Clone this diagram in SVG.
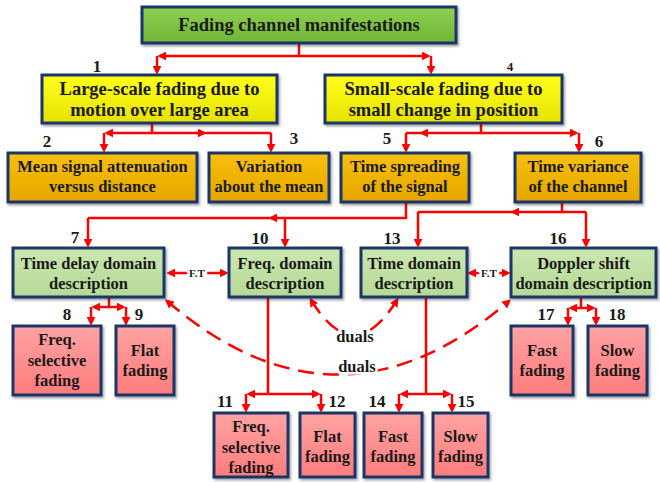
<svg xmlns="http://www.w3.org/2000/svg" width="660" height="482" viewBox="0 0 660 482">
<style>
.t{font-family:"Liberation Serif","Times New Roman",serif;font-weight:bold;fill:#1a1a1a;text-anchor:middle;font-size:16.5px}
.big{font-size:18.5px}
.n{font-family:"Liberation Serif","Times New Roman",serif;font-weight:bold;fill:#1a1a1a;text-anchor:middle;font-size:17px}
.box{stroke:#1b3668;stroke-width:3;filter:url(#sh)}
.c{fill:none;stroke:#ff0000;stroke-width:2.5}
.ca{fill:none;stroke:#ff0000;stroke-width:2.5;marker-end:url(#ah)}
.cb{fill:none;stroke:#ff0000;stroke-width:2.5;marker-end:url(#ah);marker-start:url(#ah)}
.d{fill:none;stroke:#ff0000;stroke-width:2.5;stroke-dasharray:16 9;marker-end:url(#ah);marker-start:url(#ah)}
.lbl{paint-order:stroke;stroke:#fff;stroke-width:5px}
</style>
<defs>
<filter id="sh" x="-10%" y="-10%" width="130%" height="140%">
<feDropShadow dx="1.5" dy="2" stdDeviation="1.2" flood-color="#000" flood-opacity="0.35"/>
</filter>
<marker id="ah" viewBox="0 0 10 10" refX="7" refY="5" markerWidth="9" markerHeight="9" markerUnits="userSpaceOnUse" orient="auto-start-reverse">
<path d="M0,0 L10,5 L0,10 z" fill="#ff0000"/>
</marker>
<linearGradient id="gTop" x1="0" y1="0" x2="0" y2="1"><stop offset="0" stop-color="#8fcf52"/><stop offset="1" stop-color="#6fb634"/></linearGradient>
<linearGradient id="gY" x1="0" y1="0" x2="0" y2="1"><stop offset="0" stop-color="#ffff1a"/><stop offset="1" stop-color="#e6e200"/></linearGradient>
<linearGradient id="gO" x1="0" y1="0" x2="0" y2="1"><stop offset="0" stop-color="#f8c00a"/><stop offset="1" stop-color="#e4a600"/></linearGradient>
<linearGradient id="gG" x1="0" y1="0" x2="0" y2="1"><stop offset="0" stop-color="#cbe7b0"/><stop offset="1" stop-color="#b5d996"/></linearGradient>
<linearGradient id="gP" x1="0" y1="0" x2="0" y2="1"><stop offset="0" stop-color="#ffa3a3"/><stop offset="1" stop-color="#ff7c7c"/></linearGradient>
</defs>

<g id="connectors">
<path class="c" d="M299,43 V56"/>
<path class="ca" d="M299,56 H160"/>
<path class="ca" d="M299,56 H428"/>
<path class="ca" d="M157,56 V72"/>
<path class="ca" d="M431,56 V72"/>

<path class="c" d="M152,123 V133 H271"/>
<path class="ca" d="M152,133 H107"/>
<path class="ca" d="M196,133 H204"/>
<path class="ca" d="M104,133 V150"/>
<path class="ca" d="M271,133 V150"/>

<path class="c" d="M481,123 V133 H406"/>
<path class="ca" d="M428,133 H422"/>
<path class="ca" d="M481,133 H576"/>
<path class="ca" d="M406,133 V150"/>
<path class="ca" d="M579,133 V150"/>

<path class="c" d="M406,202 V218 H88"/>
<path class="ca" d="M88,218 V245"/>
<path class="ca" d="M285,218 V245"/>
<path class="ca" d="M278,218 H271"/>

<path class="c" d="M562,202 V212 H418"/>
<path class="c" d="M562,212 H586"/>
<path class="ca" d="M418,212 V245"/>
<path class="ca" d="M586,212 V245"/>
<path class="ca" d="M518,212 H513"/>

<path class="cb" d="M169,273 H226"/>
<path class="cb" d="M470,273 H508"/>

<path class="c" d="M109,297 V307"/>
<path class="ca" d="M109,307 H94"/>
<path class="ca" d="M109,307 H123"/>
<path class="ca" d="M91,307 V323"/>
<path class="ca" d="M126,307 V323"/>

<path class="c" d="M268,297 V394"/>
<path class="ca" d="M268,394 H249"/>
<path class="ca" d="M268,394 H318"/>
<path class="ca" d="M246,394 V410"/>
<path class="ca" d="M321,394 V410"/>

<path class="c" d="M426,297 V394"/>
<path class="ca" d="M426,394 H402"/>
<path class="ca" d="M426,394 H449"/>
<path class="ca" d="M399,394 V410"/>
<path class="ca" d="M452,394 V410"/>

<path class="c" d="M581,297 V308"/>
<path class="ca" d="M581,308 H571"/>
<path class="ca" d="M581,308 H593"/>
<path class="ca" d="M568,308 V323"/>
<path class="ca" d="M596,308 V323"/>

<path class="d" d="M167,301 Q338,448 509,301"/>
<path class="d" d="M311,300 Q354,370 397,300"/>

<text class="t lbl" x="197" y="277" style="font-size:11px">F.T</text>
<text class="t lbl" x="489" y="277" style="font-size:11px">F.T</text>
<text class="t lbl" x="355" y="342">duals</text>
<text class="t lbl" x="357" y="372">duals</text>
</g>

<g id="n0"><rect class="box" x="142" y="7" width="314" height="36" fill="url(#gTop)"/><text class="t big" x="299" y="31">Fading channel manifestations</text></g>

<g id="n1"><rect class="box" x="42" y="75" width="235" height="48" fill="url(#gY)"/><text class="t big" x="159.5" y="95">Large-scale fading due to</text><text class="t big" x="159.5" y="116">motion over large area</text><text class="n" x="97" y="72">1</text></g>
<g id="n4"><rect class="box" x="325" y="75" width="237" height="48" fill="url(#gY)"/><text class="t big" x="443.5" y="95">Small-scale fading due to</text><text class="t big" x="443.5" y="116">small change in position</text><text class="n" x="510" y="71" style="font-size:13px">4</text></g>

<g id="n2"><rect class="box" x="8" y="153" width="189" height="49" fill="url(#gO)"/><text class="t" x="102.5" y="172">Mean signal attenuation</text><text class="t" x="102.5" y="192">versus distance</text><text class="n" x="47" y="147">2</text></g>
<g id="n3"><rect class="box" x="209" y="153" width="120" height="49" fill="url(#gO)"/><text class="t" x="269" y="172">Variation</text><text class="t" x="269" y="192">about the mean</text><text class="n" x="294" y="144">3</text></g>
<g id="n5"><rect class="box" x="341" y="153" width="128" height="49" fill="url(#gO)"/><text class="t" x="405" y="172">Time spreading</text><text class="t" x="405" y="192">of the signal</text><text class="n" x="387" y="144">5</text></g>
<g id="n6"><rect class="box" x="515" y="153" width="126" height="49" fill="url(#gO)"/><text class="t" x="578" y="172">Time variance</text><text class="t" x="578" y="192">of the channel</text><text class="n" x="599" y="147">6</text></g>

<g id="n7"><rect class="box" x="13" y="248" width="151" height="49" fill="url(#gG)"/><text class="t" x="88.5" y="269">Time delay domain</text><text class="t" x="88.5" y="289">description</text><text class="n" x="75" y="243">7</text></g>
<g id="n10"><rect class="box" x="229" y="248" width="112" height="49" fill="url(#gG)"/><text class="t" x="285" y="269">Freq. domain</text><text class="t" x="285" y="289">description</text><text class="n" x="260" y="244">10</text></g>
<g id="n13"><rect class="box" x="361" y="248" width="106" height="49" fill="url(#gG)"/><text class="t" x="414" y="269">Time domain</text><text class="t" x="414" y="289">description</text><text class="n" x="392" y="244">13</text></g>
<g id="n16"><rect class="box" x="511" y="248" width="145" height="49" fill="url(#gG)"/><text class="t" x="583.5" y="269">Doppler shift</text><text class="t" x="583.5" y="289">domain description</text><text class="n" x="558" y="244">16</text></g>

<g id="n8"><rect class="box" x="13" y="326" width="88" height="69" fill="url(#gP)"/><text class="t" x="57" y="345">Freq.</text><text class="t" x="57" y="366">selective</text><text class="t" x="57" y="386">fading</text><text class="n" x="67" y="320">8</text></g>
<g id="n9"><rect class="box" x="116" y="326" width="58" height="69" fill="url(#gP)"/><text class="t" x="145" y="356">Flat</text><text class="t" x="145" y="376">fading</text><text class="n" x="139" y="320">9</text></g>
<g id="n11"><rect class="box" x="214" y="413" width="74" height="64" fill="url(#gP)"/><text class="t" x="251" y="432">Freq.</text><text class="t" x="251" y="453">selective</text><text class="t" x="251" y="473">fading</text><text class="n" x="225" y="407">11</text></g>
<g id="n12"><rect class="box" x="300" y="413" width="55" height="64" fill="url(#gP)"/><text class="t" x="327.5" y="442">Flat</text><text class="t" x="327.5" y="462">fading</text><text class="n" x="337" y="407">12</text></g>
<g id="n14"><rect class="box" x="364" y="413" width="58" height="64" fill="url(#gP)"/><text class="t" x="393" y="442">Fast</text><text class="t" x="393" y="462">fading</text><text class="n" x="377" y="407">14</text></g>
<g id="n15"><rect class="box" x="433" y="413" width="55" height="64" fill="url(#gP)"/><text class="t" x="460.5" y="442">Slow</text><text class="t" x="460.5" y="462">fading</text><text class="n" x="466" y="407">15</text></g>
<g id="n17"><rect class="box" x="511" y="326" width="62" height="69" fill="url(#gP)"/><text class="t" x="542" y="356">Fast</text><text class="t" x="542" y="376">fading</text><text class="n" x="546" y="320">17</text></g>
<g id="n18"><rect class="box" x="588" y="326" width="59" height="69" fill="url(#gP)"/><text class="t" x="617.5" y="356">Slow</text><text class="t" x="617.5" y="376">fading</text><text class="n" x="617" y="320">18</text></g>
</svg>
